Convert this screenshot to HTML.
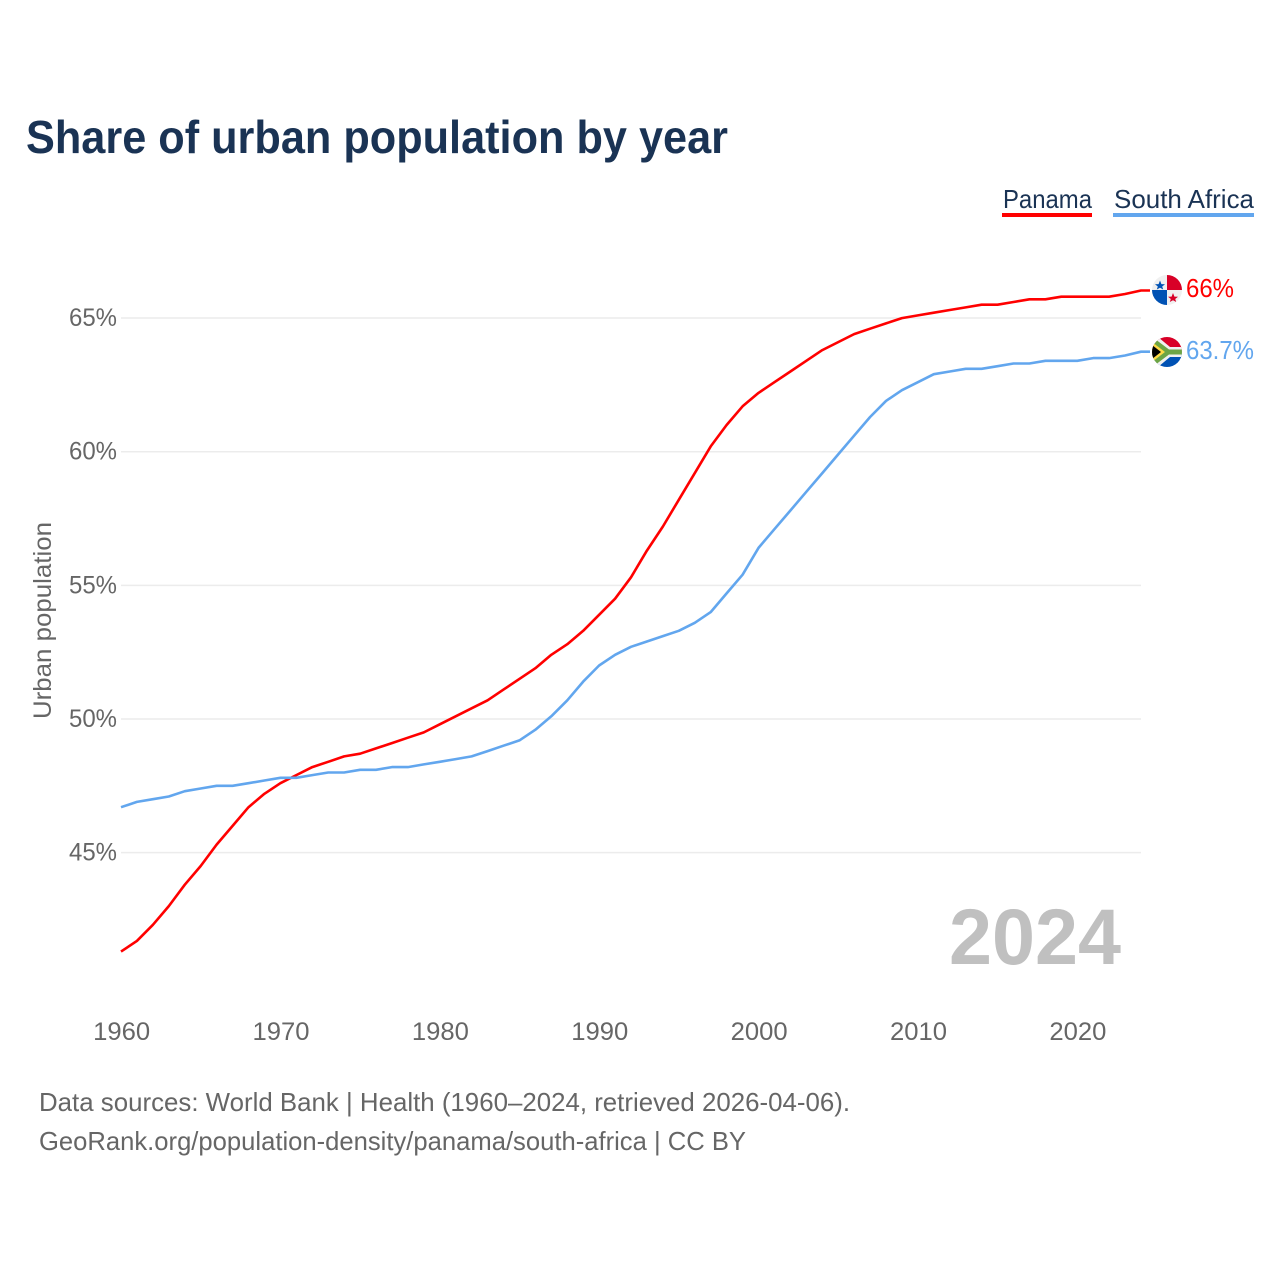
<!DOCTYPE html>
<html>
<head>
<meta charset="utf-8">
<title>Share of urban population by year</title>
<style>
html,body{margin:0;padding:0;background:#fff;width:1280px;height:1280px;overflow:hidden}
svg{display:block;font-family:"Liberation Sans",sans-serif}
</style>
</head>
<body>
<svg id="chart" width="1280" height="1280" viewBox="0 0 1280 1280">
  <defs>
    <clipPath id="flagClipP"><circle cx="1167" cy="290" r="15"/></clipPath>
    <clipPath id="flagClipS"><circle cx="1167" cy="352" r="15"/></clipPath>
  </defs>
  <text x="26" y="153" font-size="46" font-weight="700" fill="#1a3354" textLength="702" lengthAdjust="spacingAndGlyphs">Share of urban population by year</text>

  <text x="1003" y="208" font-size="26" fill="#1a3354" textLength="89" lengthAdjust="spacingAndGlyphs">Panama</text>
  <rect x="1002" y="213" width="90" height="4" fill="#ff0000"/>
  <text x="1114" y="208" font-size="26" fill="#1a3354" textLength="140" lengthAdjust="spacingAndGlyphs">South Africa</text>
  <rect x="1113" y="213" width="141" height="4" fill="#62a6ee"/>

  <g id="grid"></g>
  <g id="yticks"></g>
  <g id="xticks"></g>

  <text transform="translate(51,719) rotate(-90)" font-size="25" fill="#666" textLength="197" lengthAdjust="spacingAndGlyphs">Urban population</text>

  <text x="949" y="964" font-size="79" font-weight="700" fill="#c0c0c0" textLength="172" lengthAdjust="spacingAndGlyphs">2024</text>

  <path id="linePanama" fill="none" stroke="#ff0000" stroke-width="2.6" stroke-linejoin="round"/>
  <path id="lineSouthAfrica" fill="none" stroke="#62a6ee" stroke-width="2.6" stroke-linejoin="round"/>

  <g clip-path="url(#flagClipP)">
    <rect x="1152" y="275" width="30" height="30" fill="#f0f0f0"/>
    <rect x="1167" y="275" width="15" height="15" fill="#d80027"/>
    <rect x="1152" y="290" width="15" height="15" fill="#0052b4"/>
    <polygon points="1160,281 1161.4,284.6 1165,284.8 1162.2,287 1163.2,290 1160,288.2 1156.8,290 1157.8,287 1155,284.8 1158.6,284.6" fill="#0052b4" transform="translate(0,-0.5)"/>
    <polygon points="1173,293 1174.4,296.6 1178,296.8 1175.2,299 1176.2,302 1173,300.2 1169.8,302 1170.8,299 1168,296.8 1171.6,296.6" fill="#d80027"/>
  </g>
  <g clip-path="url(#flagClipS)">
    <rect x="1152" y="337" width="30" height="15" fill="#d80027"/>
    <rect x="1152" y="352" width="30" height="15" fill="#0052b4"/>
    <polygon points="1152,337 1158,337 1170,347 1182,347 1182,357 1170,357 1158,367 1152,367" fill="#f0f0f0"/>
    <polygon points="1152,339 1155,339 1169,349.5 1182,349.5 1182,354.5 1169,354.5 1155,365 1152,365" fill="#6da544"/>
    <polygon points="1152,342 1165,352 1152,362" fill="#ffda44"/>
    <polygon points="1152,345 1161,352 1152,359" fill="#000"/>
  </g>

  <text x="1186" y="297" font-size="26" fill="#ff0000" textLength="48" lengthAdjust="spacingAndGlyphs">66%</text>
  <text x="1186" y="359" font-size="26" fill="#62a6ee" textLength="68" lengthAdjust="spacingAndGlyphs">63.7%</text>

  <text x="39" y="1111" font-size="26" fill="#666" textLength="811" lengthAdjust="spacingAndGlyphs">Data sources: World Bank | Health (1960–2024, retrieved 2026-04-06).</text>
  <text x="39" y="1150" font-size="26" fill="#666" textLength="707" lengthAdjust="spacingAndGlyphs">GeoRank.org/population-density/panama/south-africa | CC BY</text>
</svg>
<script>
const years = [1960,1961,1962,1963,1964,1965,1966,1967,1968,1969,1970,1971,1972,1973,1974,1975,1976,1977,1978,1979,1980,1981,1982,1983,1984,1985,1986,1987,1988,1989,1990,1991,1992,1993,1994,1995,1996,1997,1998,1999,2000,2001,2002,2003,2004,2005,2006,2007,2008,2009,2010,2011,2012,2013,2014,2015,2016,2017,2018,2019,2020,2021,2022,2023,2024];
const panama = [41.3,41.7,42.3,43.0,43.8,44.5,45.3,46.0,46.7,47.2,47.6,47.9,48.2,48.4,48.6,48.7,48.9,49.1,49.3,49.5,49.8,50.1,50.4,50.7,51.1,51.5,51.9,52.4,52.8,53.3,53.9,54.5,55.3,56.3,57.2,58.2,59.2,60.2,61.0,61.7,62.2,62.6,63.0,63.4,63.8,64.1,64.4,64.6,64.8,65.0,65.1,65.2,65.3,65.4,65.5,65.5,65.6,65.7,65.7,65.8,65.8,65.8,65.8,65.9,66.03];
const southAfrica = [46.7,46.9,47.0,47.1,47.3,47.4,47.5,47.5,47.6,47.7,47.8,47.8,47.9,48.0,48.0,48.1,48.1,48.2,48.2,48.3,48.4,48.5,48.6,48.8,49.0,49.2,49.6,50.1,50.7,51.4,52.0,52.4,52.7,52.9,53.1,53.3,53.6,54.0,54.7,55.4,56.4,57.1,57.8,58.5,59.2,59.9,60.6,61.3,61.9,62.3,62.6,62.9,63.0,63.1,63.1,63.2,63.3,63.3,63.4,63.4,63.4,63.5,63.5,63.6,63.74];
const yTickValues = [45,50,55,60,65];
const yTickLabels = ["45%","50%","55%","60%","65%"];
const xTickValues = [1960,1970,1980,1990,2000,2010,2020];
const xTickLabels = ["1960","1970","1980","1990","2000","2010","2020"];

const NS = 'http://www.w3.org/2000/svg';
function xScale(yr){ return 121 + (yr - 1960) * (1141 - 121) / 64; }
function yScale(v){ return 719 - (v - 50) * 26.73; }
function linePath(vals){
  const body = vals.map(function(v,i){ return (i ? 'L' : 'M') + xScale(years[i]).toFixed(1) + ' ' + yScale(v).toFixed(1); }).join('');
  return body + 'L' + (xScale(years[years.length - 1]) + 9).toFixed(1) + ' ' + yScale(vals[vals.length - 1]).toFixed(1);
}
document.getElementById('linePanama').setAttribute('d', linePath(panama));
document.getElementById('lineSouthAfrica').setAttribute('d', linePath(southAfrica));

const gridG = document.getElementById('grid');
const yG = document.getElementById('yticks');
const xG = document.getElementById('xticks');

yTickValues.forEach(function(v,i){
  const l = document.createElementNS(NS,'line');
  l.setAttribute('x1', 121);
  l.setAttribute('x2', 1141);
  l.setAttribute('y1', yScale(v));
  l.setAttribute('y2', yScale(v));
  l.setAttribute('stroke', '#ececec');
  l.setAttribute('stroke-width', 1.5);
  
  
  gridG.appendChild(l);

  const t = document.createElementNS(NS,'text');
  t.setAttribute('x', 69);
  t.setAttribute('y', yScale(v) + 8);
  t.setAttribute('font-size', 25);
  t.setAttribute('fill', '#666');
  t.setAttribute('textLength', 48);
  t.setAttribute('lengthAdjust', 'spacingAndGlyphs');
  
  
  t.textContent = yTickLabels[i];
  yG.appendChild(t);
});

xTickValues.forEach(function(v,i){
  const t = document.createElementNS(NS,'text');
  t.setAttribute('x', xScale(v) - 27.8);
  t.setAttribute('y', 1040);
  t.setAttribute('font-size', 25);
  t.setAttribute('fill', '#666');
  t.setAttribute('textLength', 57);
  t.setAttribute('lengthAdjust', 'spacingAndGlyphs');
  
  
  t.textContent = xTickLabels[i];
  xG.appendChild(t);
});
</script>
</body>
</html>
